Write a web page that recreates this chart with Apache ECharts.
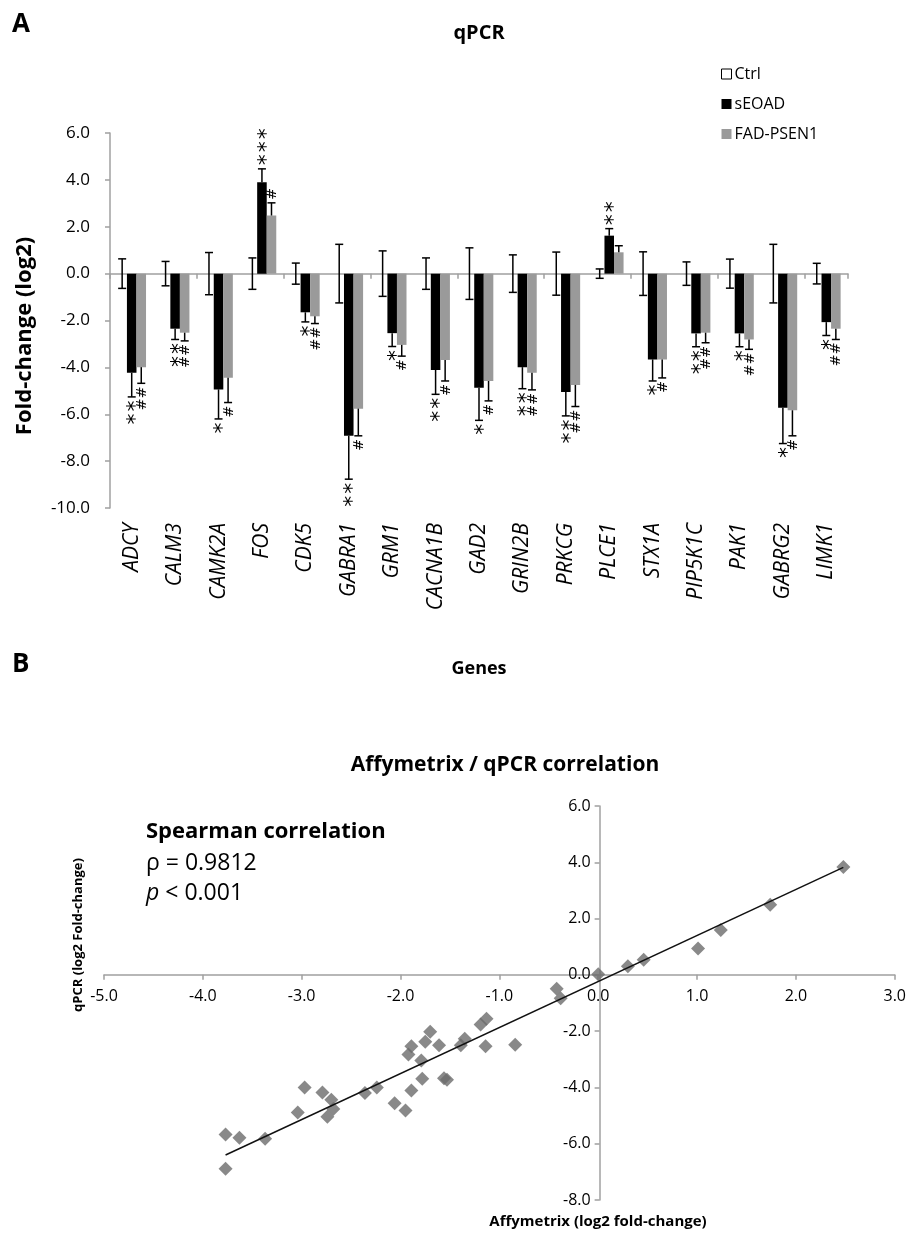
<!DOCTYPE html>
<html>
<head>
<meta charset="utf-8">
<script src="https://cdn.jsdelivr.net/npm/echarts@6/dist/echarts.min.js"></script>
<style>
  html, body { margin: 0; padding: 0; background: #fff; }
  #main { width: 909px; height: 1236px; }
</style>
</head>
<body>
<div id="main"></div>
<script>
// panel A: qPCR fold-change per gene
var genes = ['ADCY', 'CALM3', 'CAMK2A', 'FOS', 'CDK5', 'GABRA1', 'GRM1', 'CACNA1B', 'GAD2',
    'GRIN2B', 'PRKCG', 'PLCE1', 'STX1A', 'PIP5K1C', 'PAK1', 'GABRG2', 'LIMK1'];
var ctrlVal = [0, 0, 0, 0, 0, 0, 0, 0, 0, 0, 0, 0, 0, 0, 0, 0, 0];
var ctrlErr = [0.63, 0.52, 0.90, 0.67, 0.45, 1.25, 0.97, 0.67, 1.10, 0.80, 0.92, 0.20, 0.93, 0.50, 0.62, 1.25, 0.44];
var seoadVal = [-4.23, -2.35, -4.94, 3.90, -1.65, -6.92, -2.54, -4.11, -4.87, -3.99, -5.05, 1.62, -3.66, -2.55, -2.55, -5.72, -2.07];
var seoadErr = [1.03, 0.46, 1.26, 0.57, 0.41, 1.85, 0.57, 1.04, 1.39, 0.92, 1.02, 0.30, 0.92, 0.57, 0.57, 1.53, 0.57];
var fadVal = [-3.99, -2.52, -4.44, 2.48, -1.82, -5.76, -3.04, -3.69, -4.58, -4.23, -4.75, 0.91, -3.66, -2.52, -2.81, -5.83, -2.35];
var fadErr = [0.69, 0.35, 1.06, 0.54, 0.31, 1.16, 0.48, 0.89, 0.85, 0.73, 0.92, 0.28, 0.79, 0.43, 0.42, 1.09, 0.46];
var seoadSig = ['**', '**', '*', '***', '*', '**', '*', '**', '*', '**', '**', '**', '*', '**', '*', '*', '*'];
var fadSig = ['##', '##', '#', '#', '##', '#', '#', '#', '#', '##', '##', '', '#', '##', '##', '#', '##'];
var yTicksA = [-10, 6, 2];

// panel B: Affymetrix vs qPCR
var affyX = [-3.77, -3.63, -3.77, -3.37, -3.04, -2.97, -2.79, -2.70, -2.68, -2.74, -2.36, -2.24, -2.06, -1.95,
    -1.89, -1.92, -1.89, -1.78, -1.79, -1.75, -1.70, -1.61, -1.56, -1.53, -1.39, -1.35, -1.14, -1.19, -1.13,
    -0.84, -0.42, -0.38, 0.00, 0.30, 0.46, 1.01, 1.24, 1.74, 2.48];
var qpcrY = [-5.67, -5.79, -6.89, -5.82, -4.89, -4.00, -4.18, -4.44, -4.77, -5.04, -4.20, -4.00, -4.56, -4.82,
    -4.11, -2.83, -2.54, -3.69, -3.04, -2.38, -2.02, -2.50, -3.67, -3.73, -2.50, -2.27, -2.54, -1.76, -1.56,
    -2.48, -0.49, -0.83, 0.02, 0.31, 0.54, 0.94, 1.59, 2.49, 3.83];
var trendX = [-3.77, 2.48];
var trendY = [-6.40, 3.82];
var xRangeB = [-5, 3, 1];
var yRangeB = [-8, 6, 2];

var FONT = 'Open Sans';
var AXIS_GRAY = '#a0a0a0';
var CAT_GAP = 0.34;

// grid B box; axes cross at the origin
var gridB = {left: 104, right: 12, top: 806, bottom: 36};
var gridBW = 909 - gridB.left - gridB.right;
var gridBH = 1236 - gridB.top - gridB.bottom;
var xAxisShift = -(0 - yRangeB[0]) / (yRangeB[1] - yRangeB[0]) * gridBH;
var yAxisShift = -(0 - xRangeB[0]) / (xRangeB[1] - xRangeB[0]) * gridBW;

var errRows = [];
[[ctrlVal, ctrlErr], [seoadVal, seoadErr], [fadVal, fadErr]].forEach(function (pair, g) {
    genes.forEach(function (name, i) {
        errRows.push([i, g, pair[0][i], pair[1][i]]);
    });
});

function renderErr(params, api) {
    var cat = api.value(0), g = api.value(1), v = api.value(2), e = api.value(3);
    var band = api.size([1, 0])[0];
    var bw = band * (1 - CAT_GAP) / 3;
    var x = api.coord([cat, 0])[0] + (g - 1) * bw;
    var cap = 4;
    var st = {stroke: '#000', lineWidth: 1.5};
    var kids = [];
    if (g === 0) {
        var yt = api.coord([cat, v + e])[1], yb = api.coord([cat, v - e])[1];
        kids.push({type: 'line', shape: {x1: x, y1: yt, x2: x, y2: yb}, style: st});
        kids.push({type: 'line', shape: {x1: x - cap, y1: yt, x2: x + cap, y2: yt}, style: st});
        kids.push({type: 'line', shape: {x1: x - cap, y1: yb, x2: x + cap, y2: yb}, style: st});
    } else {
        var dir = v < 0 ? -1 : 1;
        var y0 = api.coord([cat, v])[1], y1 = api.coord([cat, v + dir * e])[1];
        kids.push({type: 'line', shape: {x1: x, y1: y0, x2: x, y2: y1}, style: st});
        kids.push({type: 'line', shape: {x1: x - cap, y1: y1, x2: x + cap, y2: y1}, style: st});
        var sig = (g === 1 ? seoadSig : fadSig)[cat];
        var star = g === 1;
        // one glyph per mark, stacked away from the cap
        for (var j = 0; j < sig.length; j++) {
            kids.push({
                type: 'text',
                x: x + (star ? 5 : 1),
                y: y1 - dir * (star ? 9 + j * 13 : 9 + j * 12),
                rotation: Math.PI / 2,
                style: {
                    text: sig.charAt(j), fill: '#000',
                    font: (star ? '22px ' : '14px ') + '"DejaVu Sans"',
                    align: 'center', verticalAlign: 'middle'
                }
            });
        }
    }
    return {type: 'group', children: kids};
}

var myChart = echarts.init(document.getElementById('main'));
var option = {
    backgroundColor: '#fff',
    animation: false,
    textStyle: {fontFamily: FONT, color: '#000'},
    title: [
        {text: 'qPCR', left: 474, top: 18, textAlign: 'center',
            textStyle: {fontFamily: FONT, fontSize: 20, fontWeight: 'bold', color: '#000'}},
        {text: 'Affymetrix / qPCR correlation', left: 500, top: 750, textAlign: 'center',
            textStyle: {fontFamily: FONT, fontSize: 21, fontWeight: 'bold', color: '#000'}}
    ],
    legend: {
        orient: 'vertical', left: 716, top: 61,
        itemWidth: 10, itemHeight: 10, itemGap: 14,
        icon: 'rect',
        textStyle: {fontFamily: FONT, fontSize: 16, color: '#000', padding: [0, 0, 0, -2]},
        data: [
            {name: 'Ctrl', itemStyle: {color: '#fff', borderColor: '#000', borderWidth: 1}},
            'sEOAD', 'FAD-PSEN1'
        ]
    },
    grid: [
        {left: 110, right: 61, top: 133, bottom: 728},
        gridB
    ],
    xAxis: [
        {
            gridIndex: 0, type: 'category', data: genes,
            axisLine: {onZero: true, lineStyle: {color: AXIS_GRAY, width: 1.5}},
            axisTick: {show: true, length: 5, lineStyle: {color: AXIS_GRAY, width: 1.5}},
            axisLabel: {show: false}, splitLine: {show: false}
        },
        {
            gridIndex: 0, type: 'category', data: genes, position: 'bottom',
            axisLine: {show: false, onZero: false}, axisTick: {show: false},
            axisLabel: {rotate: 90, margin: 15, fontFamily: FONT, fontSize: 21, fontStyle: 'italic', color: '#000'},
            name: 'Genes', nameLocation: 'middle', nameGap: 152,
            nameTextStyle: {fontFamily: FONT, fontSize: 18, fontWeight: 'bold', color: '#000'}
        },
        {
            gridIndex: 1, type: 'value', min: xRangeB[0], max: xRangeB[1], interval: xRangeB[2],
            position: 'bottom', offset: xAxisShift,
            axisLine: {onZero: false, lineStyle: {color: AXIS_GRAY, width: 1.5}},
            axisTick: {show: true, length: 5, lineStyle: {color: AXIS_GRAY, width: 1.5}},
            axisLabel: {margin: 14, fontFamily: FONT, fontSize: 16, color: '#000',
                formatter: function (v) { return v.toFixed(1); }},
            splitLine: {show: false}
        }
    ],
    yAxis: [
        {
            gridIndex: 0, type: 'value', min: yTicksA[0], max: yTicksA[1], interval: yTicksA[2],
            axisLine: {show: true, onZero: false, lineStyle: {color: AXIS_GRAY, width: 1.5}},
            axisTick: {show: true, length: 5, lineStyle: {color: AXIS_GRAY, width: 1.5}},
            axisLabel: {margin: 20, fontFamily: FONT, fontSize: 17, color: '#000',
                formatter: function (v) { return v.toFixed(1); }},
            splitLine: {show: false}
        },
        {
            gridIndex: 1, type: 'value', min: yRangeB[0], max: yRangeB[1], interval: yRangeB[2],
            position: 'left', offset: yAxisShift,
            axisLine: {show: true, onZero: false, lineStyle: {color: AXIS_GRAY, width: 1.5}},
            axisTick: {show: true, length: 5, lineStyle: {color: AXIS_GRAY, width: 1.5}},
            axisLabel: {margin: 9, fontFamily: FONT, fontSize: 16, color: '#000',
                formatter: function (v) { return v.toFixed(1); }},
            splitLine: {show: false}
        }
    ],
    series: [
        {name: 'Ctrl', type: 'bar', xAxisIndex: 0, yAxisIndex: 0, data: ctrlVal,
            barGap: '0%', barCategoryGap: (CAT_GAP * 100) + '%',
            itemStyle: {color: '#fff'}},
        {name: 'sEOAD', type: 'bar', xAxisIndex: 0, yAxisIndex: 0, data: seoadVal,
            itemStyle: {color: '#000'}},
        {name: 'FAD-PSEN1', type: 'bar', xAxisIndex: 0, yAxisIndex: 0, data: fadVal,
            itemStyle: {color: '#9a9a9a'}},
        {type: 'custom', xAxisIndex: 0, yAxisIndex: 0, data: errRows,
            encode: {x: 0, y: 2}, renderItem: renderErr, z: 5, silent: true},
        {type: 'line', xAxisIndex: 2, yAxisIndex: 1,
            data: trendX.map(function (x, i) { return [x, trendY[i]]; }),
            symbol: 'none', lineStyle: {color: '#111', width: 1.5}, z: 3},
        {type: 'scatter', xAxisIndex: 2, yAxisIndex: 1,
            data: affyX.map(function (x, i) { return [x, qpcrY[i]]; }),
            symbol: 'diamond', symbolSize: 14, itemStyle: {color: '#6b6b6b'}, z: 2}
    ],
    graphic: [
        {type: 'text', left: 12, top: 12, style: {text: 'A', font: 'bold 26px "Open Sans"', fill: '#000'}},
        {type: 'text', left: 12, top: 652, style: {text: 'B', font: 'bold 26px "Open Sans"', fill: '#000'}},
        {type: 'text', x: 25, y: 336, rotation: Math.PI / 2, style: {
            text: 'Fold-change (log2)', font: 'bold 22px "Open Sans"', fill: '#000',
            align: 'center', verticalAlign: 'middle'}},
        {type: 'text', left: 146, top: 821, style: {text: 'Spearman correlation', font: 'bold 22px "Open Sans"', fill: '#000'}},
        {type: 'text', left: 146, top: 852, style: {text: 'ρ = 0.9812', font: '23px "Open Sans"', fill: '#000'}},
        {type: 'text', left: 146, top: 882, style: {
            text: '{i|p} < 0.001', font: '23px "Open Sans"', fill: '#000',
            rich: {i: {fontStyle: 'italic', fontSize: 23, fontFamily: FONT}}}},
        {type: 'text', x: 78, y: 935, rotation: Math.PI / 2, style: {
            text: 'qPCR (log2 Fold-change)', font: 'bold 13px "Open Sans"', fill: '#000',
            align: 'center', verticalAlign: 'middle'}},
        {type: 'text', x: 598, y: 1222, style: {
            text: 'Affymetrix (log2 fold-change)', font: 'bold 15px "Open Sans"', fill: '#000',
            align: 'center', verticalAlign: 'middle'}}
    ]
};
myChart.setOption(option);
window.onresize = myChart.resize;
</script>
</body>
</html>
